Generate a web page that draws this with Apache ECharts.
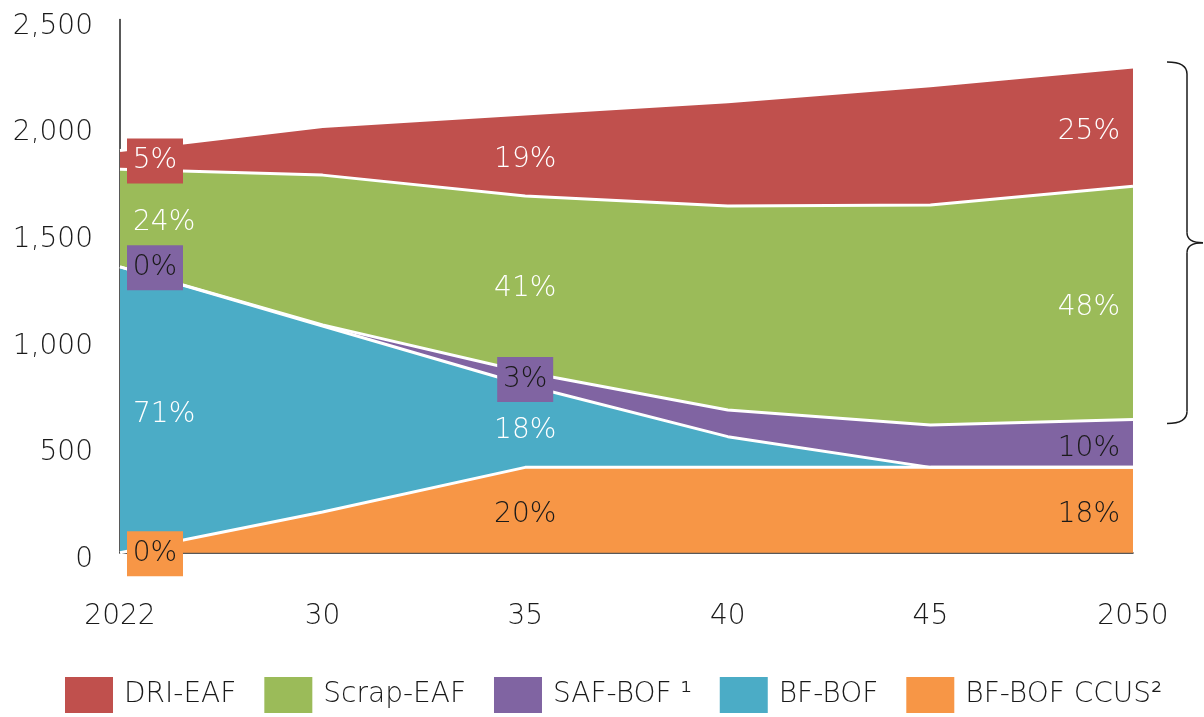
<!DOCTYPE html>
<html>
<head>
<meta charset="utf-8">
<script src="https://cdn.jsdelivr.net/npm/echarts@6/dist/echarts.min.js"></script>
<style>
  html, body { margin: 0; padding: 0; background: #fff; }
  #chart { width: 1204px; height: 717px; }
</style>
</head>
<body>
<div id="chart"></div>
<script>
// Categories
const years = ['2022', '30', '35', '40', '45', '2050'];

// Stacked values, bottom to top
const ccus = [0, 191, 400, 400, 400, 400];
const bfBof = [1340, 872, 386, 144, 0, 0];
const safBof = [0, 5, 61, 125, 199, 224];
const scrap = [457, 702, 825, 956, 1031, 1094];
const dri = [88, 228, 384, 489, 559, 559];

// Share labels shown in the chart
const ccusPct = ['0%', '', '20%', '', '', '18%'];
const bfBofPct = ['71%', '', '18%', '', '', ''];
const safBofPct = ['0%', '', '3%', '', '', '10%'];
const scrapPct = ['24%', '', '41%', '', '', '48%'];
const driPct = ['5%', '', '19%', '', '', '25%'];

const yTicks = [0, 500, 1000, 1500, 2000, 2500];

const FONT = 'DejaVu Sans';

const layers = [
  { name: 'BF-BOF CCUS²', data: ccus, pct: ccusPct, color: '#F79646', text: '#1a1a1a' },
  { name: 'BF-BOF', data: bfBof, pct: bfBofPct, color: '#4BACC6', text: '#ffffff' },
  { name: 'SAF-BOF ¹', data: safBof, pct: safBofPct, color: '#8064A2', text: '#1a1a1a' },
  { name: 'Scrap-EAF', data: scrap, pct: scrapPct, color: '#9BBB59', text: '#ffffff' },
  { name: 'DRI-EAF', data: dri, pct: driPct, color: '#C0504D', text: '#ffffff' }
];

// Area series
const areaSeries = layers.map(l => ({
  name: l.name,
  type: 'line',
  stack: 'total',
  data: l.data,
  showSymbol: false,
  symbol: 'none',
  lineStyle: { color: '#ffffff', width: 3 },
  itemStyle: { color: l.color },
  areaStyle: { color: l.color, opacity: 1 },
  emphasis: { disabled: true }
}));

// Label points at the middle of each band
const labelData = [];
const stackBase = years.map(() => 0);
layers.forEach(l => {
  l.data.forEach((v, i) => {
    const midVal = stackBase[i] + v / 2;
    stackBase[i] += v;
    if (!l.pct[i]) return;
    const boxed = v < 150;   // thin band -> put the label on a coloured tag
    const last = i === years.length - 1;
    const label = {
      show: true,
      color: l.text,
      fontFamily: FONT,
      fontWeight: 200,
      fontSize: 28,
      offset: [0, 5],
      position: i === 0 ? 'right' : (last ? 'left' : 'inside'),
      distance: i === 0 ? (boxed ? 7 : 13) : 13
    };
    if (boxed) {
      label.formatter = '{box|' + l.pct[i] + '}';
      label.offset = [0, 1];
      label.rich = {
        box: {
          backgroundColor: l.color,
          color: l.text,
          fontFamily: FONT,
          fontWeight: 200,
          fontSize: 28,
          width: 56,
          height: 45,
          lineHeight: 45,
          align: 'center'
        }
      };
    } else {
      label.formatter = l.pct[i];
    }
    labelData.push({ value: [i, midVal], label: label });
  });
});

const chart = echarts.init(document.getElementById('chart'));

chart.setOption({
  animation: false,
  backgroundColor: '#ffffff',
  grid: { left: 120, right: 71, top: 19.4, bottom: 164.3 },
  legend: {
    data: ['DRI-EAF', 'Scrap-EAF', 'SAF-BOF ¹', 'BF-BOF', 'BF-BOF CCUS²'],
    left: 65,
    top: 677,
    padding: 0,
    icon: 'rect',
    itemWidth: 48,
    itemHeight: 36,
    itemGap: 28,
    selectedMode: false,
    textStyle: { fontFamily: FONT, fontWeight: 200, fontSize: 28, color: '#1a1a1a', padding: [0, 0, 0, 6] }
  },
  xAxis: {
    type: 'category',
    data: years,
    boundaryGap: false,
    axisLine: { show: true, lineStyle: { color: '#222', width: 1.5 } },
    axisTick: { show: false },
    axisLabel: { fontFamily: FONT, fontWeight: 200, fontSize: 28, color: '#1a1a1a', margin: 50 },
    splitLine: { show: false }
  },
  yAxis: {
    type: 'value',
    min: yTicks[0],
    max: yTicks[yTicks.length - 1],
    interval: yTicks[1] - yTicks[0],
    axisLine: { show: true, lineStyle: { color: '#222', width: 1.5 } },
    axisTick: { show: false },
    splitLine: { show: false },
    axisLabel: {
      fontFamily: FONT,
      fontWeight: 200,
      fontSize: 28,
      color: '#1a1a1a',
      margin: 27,
      verticalAlign: 'top',
      lineHeight: 14,
      formatter: v => v.toLocaleString('en-US')
    }
  },
  series: areaSeries.concat([{
    type: 'scatter',
    symbolSize: 0,
    itemStyle: { opacity: 1 },
    data: labelData,
    z: 10,
    silent: true
  }])
});

// Brace around DRI-EAF + Scrap-EAF in 2050
const n = years.length - 1;
const lowVal = ccus[n] + bfBof[n] + safBof[n];
const highVal = lowVal + scrap[n] + dri[n];
const pTop = chart.convertToPixel({ xAxisIndex: 0, yAxisIndex: 0 }, [n, highVal]);
const pBot = chart.convertToPixel({ xAxisIndex: 0, yAxisIndex: 0 }, [n, lowVal]);
const bTop = pTop[1] - 5;
const bBot = pBot[1] + 4;
const bMid = (bTop + bBot) / 2;
const x0 = pTop[0] + 34;
const x1 = pTop[0] + 54;
const x2 = pTop[0] + 70;
const braceStyle = { fill: null, stroke: '#1a1a1a', lineWidth: 1.5 };
const curve = (ax, ay, cx, cy, bx, by) => ({
  type: 'bezierCurve',
  shape: { x1: ax, y1: ay, x2: bx, y2: by, cpx1: cx, cpy1: cy },
  style: braceStyle
});
const seg = (ax, ay, bx, by) => ({
  type: 'line',
  shape: { x1: ax, y1: ay, x2: bx, y2: by },
  style: braceStyle
});

chart.setOption({
  graphic: [{
    type: 'group',
    children: [
      curve(x0, bTop, x1, bTop, x1, bTop + 12),
      seg(x1, bTop + 12, x1, bMid - 10),
      curve(x1, bMid - 10, x1, bMid, x2, bMid),
      curve(x2, bMid, x1, bMid, x1, bMid + 10),
      seg(x1, bMid + 10, x1, bBot - 12),
      curve(x1, bBot - 12, x1, bBot, x0, bBot)
    ]
  }]
});
</script>
</body>
</html>
